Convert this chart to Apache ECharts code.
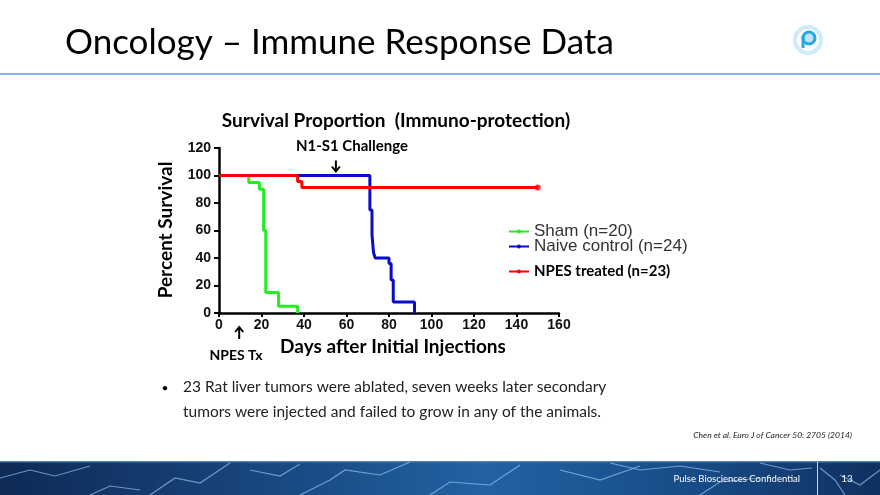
<!DOCTYPE html>
<html><head><meta charset="utf-8">
<script src="https://cdn.jsdelivr.net/npm/echarts@6/dist/echarts.min.js"></script>
<style>html,body{margin:0;padding:0;background:#fff}#c{width:880px;height:495px}</style>
</head><body><div id="c"></div>
<script>
// ---- data ----
const seriesNames = ['Sham (n=20)', 'Naive control (n=24)', 'NPES treated (n=23)'];
const shamData  = [[0,100],[14,95],[19,90],[21,60],[22,15],[28,5],[37,0]];
const naiveData = [[0,100],[71,75],[72,57],[72.7,44],[73.5,40],[80,36],[81,24],[82,8],[92,0]];
const npesData  = [[0,100],[37,95.7],[39,91.3],[150,91.3]];
const xTicks = [0,20,40,60,80,100,120,140,160];
const yTicks = [0,20,40,60,80,100,120];
const challengeDay = 55;
const txDay = 9.5;

const chart = echarts.init(document.getElementById('c'), null, {renderer:'canvas'});
const axisLabel = {color:'#111', fontFamily:'Liberation Sans, Arial', fontWeight:'bold', fontSize:14};
const colors = ['#22ee22', '#0a0ac8', '#ff0000'];
function lineSeries(name, data, color){
  return {name, type:'line', step:'end', data, symbol:'circle', symbolSize:4, showSymbol:false,
    lineStyle:{width:3, color}, itemStyle:{color}, emphasis:{disabled:true}, animation:false};
}
function legendAt(name, top, bold){
  return {data:[name], left:503, top, itemWidth:20, itemHeight:5, itemGap:0,
    textStyle: bold ? {fontFamily:'Lato', fontWeight:'bold', fontSize:15, color:'#000'}
                    : {fontFamily:'Liberation Sans, Arial', fontSize:17, color:'#333'},
    selectedMode:false};
}
chart.setOption({
  animation:false,
  color: colors,
  grid:{left:219, right:321, top:148, bottom:182, containLabel:false, outerBoundsMode:'none'},
  xAxis:{type:'value', min:xTicks[0], max:xTicks[xTicks.length-1], interval:20,
    axisLine:{show:true, lineStyle:{color:'#000', width:2.5}},
    axisTick:{show:true, length:4, lineStyle:{color:'#000', width:2}},
    axisLabel:Object.assign({margin:5, formatter:v=>xTicks.includes(v)?String(v):''}, axisLabel),
    splitLine:{show:false}},
  yAxis:{type:'value', min:yTicks[0], max:yTicks[yTicks.length-1], interval:20,
    axisLine:{show:true, lineStyle:{color:'#000', width:2.5}},
    axisTick:{show:true, length:5, lineStyle:{color:'#000', width:2}},
    axisLabel:Object.assign({margin:8, formatter:v=>yTicks.includes(v)?String(v):''}, axisLabel),
    splitLine:{show:false}},
  legend:[legendAt(seriesNames[0], 218, false), legendAt(seriesNames[1], 233, false), legendAt(seriesNames[2], 259, true)],
  series:[
    lineSeries(seriesNames[0], shamData, colors[0]),
    lineSeries(seriesNames[1], naiveData, colors[1]),
    lineSeries(seriesNames[2], npesData, colors[2]),
    {type:'scatter', data:[npesData[npesData.length-1]], symbolSize:6, itemStyle:{color:colors[2]}, silent:true}
  ]
});

const cp = chart.convertToPixel({gridIndex:0}, [challengeDay, 0]);
const tp = chart.convertToPixel({gridIndex:0}, [txDay, 0]);
const top100 = chart.convertToPixel({gridIndex:0}, [0, 100])[1];
const chX = cp[0], txX = tp[0], axisY = tp[1];

function txt(x, y, text, font, opts){
  return Object.assign({type:'text', x, y, silent:true, style:Object.assign({text, font, fill:'#000',
    textAlign:'center', textVerticalAlign:'middle', align:'center', verticalAlign:'middle'}, opts||{})});
}
const lightning = [
  [[0,478],[30,470],[55,476],[90,466]], [[150,495],[175,478],[200,483],[230,463]],
  [[300,495],[330,480],[345,470],[380,475],[410,462]], [[430,495],[450,482],[490,485],[520,465]],
  [[560,470],[600,480],[640,466]], [[250,470],[280,476],[300,464]], [[700,495],[720,482],[760,478]],
  [[840,475],[860,485],[880,470]], [[90,495],[110,486],[140,490]], [[610,463],[640,470],[680,466],[720,472]],
  [[760,463],[790,470],[812,468]], [[820,468],[835,480],[845,495]]
];
const gfx = [
  txt(65, 43, 'Oncology – Immune Response Data', '35px Lato', {textAlign:'left', align:'left'}),
  {type:'rect', shape:{x:0, y:73, width:880, height:2}, style:{fill:'#8db3e2'}, silent:true},
  {type:'circle', shape:{cx:808, cy:40, r:15}, style:{fill:'#cdebf8'}, silent:true},
  {type:'circle', shape:{cx:808, cy:40, r:11}, style:{fill:'#ffffff'}, silent:true},
  {type:'circle', shape:{cx:809, cy:38, r:6}, style:{fill:'#bfe4f6', stroke:'#2aa6e2', lineWidth:3}, silent:true},
  {type:'rect', shape:{x:801.5, y:36, width:3, height:12}, style:{fill:'#2aa6e2'}, silent:true},
  txt(396, 121, 'Survival Proportion  (Immuno-protection)', 'bold 19px Lato'),
  txt(352, 146, 'N1-S1 Challenge', 'bold 15px Lato'),
  {type:'polyline', shape:{points:[[chX, top100-15],[chX, top100-4]]}, style:{stroke:'#000', lineWidth:2}, silent:true},
  {type:'polyline', shape:{points:[[chX-4, top100-9],[chX, top100-4],[chX+4, top100-9]]}, style:{stroke:'#000', lineWidth:2, fill:null}, silent:true},
  {type:'text', x:166, y:230, rotation:Math.PI/2, silent:true, style:{text:'Percent Survival', font:'bold 19px Lato', fill:'#000', textAlign:'center', textVerticalAlign:'middle', align:'center', verticalAlign:'middle'}},
  txt(393, 347, 'Days after Initial Injections', 'bold 19px Lato'),
  txt(236, 355, 'NPES Tx', 'bold 14px Lato'),
  {type:'polyline', shape:{points:[[txX, axisY+26],[txX, axisY+14]]}, style:{stroke:'#000', lineWidth:2}, silent:true},
  {type:'polyline', shape:{points:[[txX-4, axisY+19],[txX, axisY+14],[txX+4, axisY+19]]}, style:{stroke:'#000', lineWidth:2, fill:null}, silent:true},
  txt(165, 388, '•', '12px Lato'),
  txt(183, 387, '23 Rat liver tumors were ablated, seven weeks later secondary', '15.5px Lato', {textAlign:'left', align:'left', fill:'#222'}),
  txt(183, 412, 'tumors were injected and failed to grow in any of the animals.', '15.5px Lato', {textAlign:'left', align:'left', fill:'#222'}),
  txt(852, 435, 'Chen et al. Euro J of Cancer 50: 2705 (2014)', 'italic 8.5px Lato', {textAlign:'right', align:'right', fill:'#222'}),
  {type:'rect', shape:{x:0, y:461, width:880, height:34}, silent:true,
    style:{fill:new echarts.graphic.LinearGradient(0,0,1,0,[{offset:0,color:'#0e2a55'},{offset:0.35,color:'#1a4b86'},{offset:0.55,color:'#2262a3'},{offset:0.8,color:'#174a85'},{offset:1,color:'#0f3060'}])}},
  {type:'rect', shape:{x:0, y:461, width:880, height:1.5}, style:{fill:'#4a7fba'}, silent:true}
];
lightning.forEach(p => gfx.push({type:'polyline', shape:{points:p}, style:{stroke:'#a8d6ff', lineWidth:1.2, opacity:0.6, fill:null}, silent:true}));
gfx.push(
  {type:'rect', shape:{x:817, y:462, width:1, height:33}, style:{fill:'#c8d8ea'}, silent:true},
  txt(800, 479, 'Pulse Biosciences Confidential', '9.5px Lato', {textAlign:'right', align:'right', fill:'#ffffff'}),
  txt(847, 479, '13', '10px Lato', {fill:'#ffffff'})
);
chart.setOption({graphic:{elements:gfx}});
</script></body></html>
